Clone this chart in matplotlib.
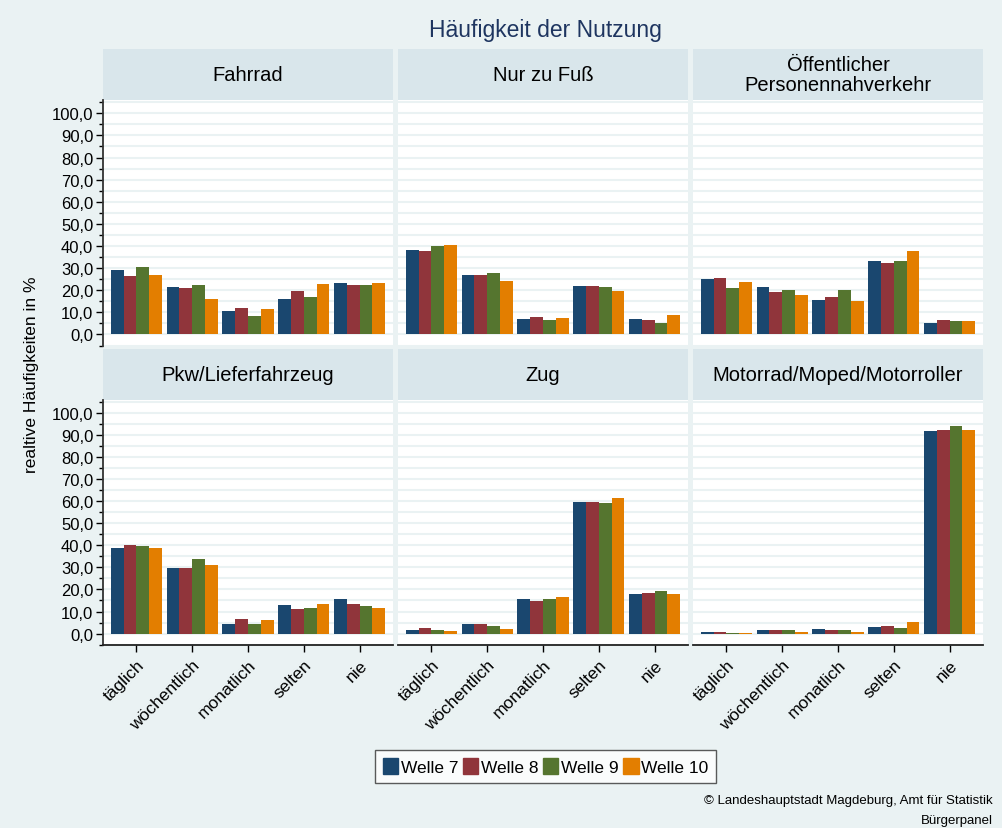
import matplotlib.pyplot as plt
import numpy as np
from matplotlib.ticker import FuncFormatter, MultipleLocator

plt.rcParams["font.family"] = ["Liberation Sans", "DejaVu Sans"]

W, H = 1002, 829
BG = "#EAF2F3"
STRIP = "#D9E6EB"

panels = ["Fahrrad", "Nur zu Fuß", "Öffentlicher\nPersonennahverkehr",
          "Pkw/Lieferfahrzeug", "Zug", "Motorrad/Moped/Motorroller"]
categories = ["täglich", "wöchentlich", "monatlich", "selten", "nie"]
series = ["Welle 7", "Welle 8", "Welle 9", "Welle 10"]
colors = ["#1A476F", "#90353B", "#55752F", "#E37E00"]

# one row per panel, values in %
welle7 = [[29.1, 21.4, 10.6, 15.9, 23.2],
          [38.2, 26.9, 7.0, 21.9, 7.0],
          [25.1, 21.4, 15.5, 33.2, 5.2],
          [39.0, 29.6, 4.5, 13.0, 15.7],
          [1.8, 4.5, 15.7, 59.8, 18.0],
          [0.5, 1.8, 2.2, 3.1, 92.1]]
welle8 = [[26.4, 21.0, 11.9, 19.6, 22.3],
          [37.7, 26.9, 7.9, 21.9, 6.6],
          [25.5, 19.2, 16.9, 32.3, 6.6],
          [40.3, 29.6, 6.7, 11.2, 13.5],
          [2.7, 4.5, 14.8, 59.8, 18.4],
          [0.5, 1.4, 1.4, 3.6, 92.5]]
welle9 = [[30.5, 22.3, 8.3, 16.8, 22.3],
          [40.0, 27.8, 6.6, 21.4, 5.2],
          [21.0, 20.1, 20.1, 33.2, 6.1],
          [39.8, 33.7, 4.5, 11.7, 12.6],
          [1.8, 3.6, 15.7, 59.3, 19.3],
          [0.2, 1.4, 1.4, 2.7, 94.3]]
welle10 = [[26.9, 15.9, 11.5, 22.8, 23.2],
           [40.5, 24.2, 7.4, 19.6, 8.8],
           [23.7, 17.8, 15.1, 37.7, 6.1],
           [39.0, 31.0, 6.3, 13.5, 11.7],
           [1.3, 2.2, 16.6, 61.5, 18.0],
           [0.2, 0.9, 0.9, 5.4, 92.5]]
data = [welle7, welle8, welle9, welle10]


def px(x0, y0, x1, y1):
    # pixel box (top-left origin) -> figure fraction rect
    return [x0 / W, 1 - y1 / H, (x1 - x0) / W, (y1 - y0) / H]


fig = plt.figure(figsize=(W / 100, H / 100), dpi=100, facecolor=BG)

cols = [(103, 393), (398, 688), (693, 983)]
rows = [(50, 101, 347), (350, 401, 646)]
x = np.arange(len(categories))
bw = 0.23
fmt = FuncFormatter(lambda v, _: f"{v:.1f}".replace(".", ","))

for i, name in enumerate(panels):
    r, c = divmod(i, 3)
    x0, x1 = cols[c]
    st, top, bot = rows[r]

    sax = fig.add_axes(px(x0, st, x1, top))
    sax.set_facecolor(STRIP)
    sax.set_xticks([])
    sax.set_yticks([])
    for s in sax.spines.values():
        s.set_visible(False)
    sax.text(0.5, 0.5, name, ha="center", va="center", fontsize=14.5,
             linespacing=1.05, transform=sax.transAxes)

    ax = fig.add_axes(px(x0, top, x1, bot))
    ax.set_facecolor("white")
    for k in range(4):
        ax.bar(x + (k - 1.5) * bw, data[k][i], width=bw, color=colors[k],
               label=series[k], zorder=3)
    ax.set_xlim(-0.6, 4.6)
    ax.set_ylim(-5.2, 106)
    ax.yaxis.set_major_locator(MultipleLocator(10))
    ax.yaxis.set_minor_locator(MultipleLocator(5))
    ax.set_yticks(np.arange(0, 101, 10))
    ax.yaxis.set_major_formatter(fmt)
    ax.grid(axis="y", which="both", color=BG, linewidth=1.5, zorder=0)
    for s in ["top", "right"]:
        ax.spines[s].set_visible(False)

    if c == 0:
        ax.spines["left"].set_color("#333333")
        ax.spines["left"].set_linewidth(1.3)
        ax.tick_params(axis="y", which="major", length=5, width=1,
                       labelsize=12, pad=2)
        ax.tick_params(axis="y", which="minor", length=3, width=1)
    else:
        ax.spines["left"].set_visible(False)
        ax.tick_params(axis="y", which="both", length=0, labelleft=False)

    if r == 1:
        ax.spines["bottom"].set_color("#222222")
        ax.spines["bottom"].set_linewidth(1.3)
        ax.set_xticks(x)
        ax.set_xticklabels(categories, rotation=45, ha="right",
                           rotation_mode="anchor", fontsize=12.5)
        ax.tick_params(axis="x", length=5, width=1)
    else:
        ax.spines["bottom"].set_visible(False)
        ax.set_xticks([])

fig.text(545 / W, 1 - 30 / H, "Häufigkeit der Nutzung", ha="center",
         va="center", fontsize=16.5, color="#1E3560")
fig.text(32 / W, 1 - 375 / H, "realtive Häufigkeiten in %", rotation=90,
         ha="center", va="center", fontsize=12.5)

handles = [plt.Rectangle((0, 0), 1, 1, color=col) for col in colors]
leg = fig.legend(handles, series, loc="center", ncol=4,
                 bbox_to_anchor=(545.5 / W, 1 - 767.5 / H), fontsize=12.5,
                 frameon=True, fancybox=False, edgecolor="#333333",
                 handlelength=0.9, handleheight=1.0, handletextpad=0.15,
                 columnspacing=0.25, borderpad=0.45)
leg.get_frame().set_linewidth(1.0)

fig.text(993 / W, 1 - 801 / H,
         "© Landeshauptstadt Magdeburg, Amt für Statistik",
         ha="right", va="center", fontsize=9.5)
fig.text(993 / W, 1 - 821 / H, "Bürgerpanel", ha="right", va="center",
         fontsize=9.5)

fig.savefig("out.png", dpi=100, facecolor=BG)
